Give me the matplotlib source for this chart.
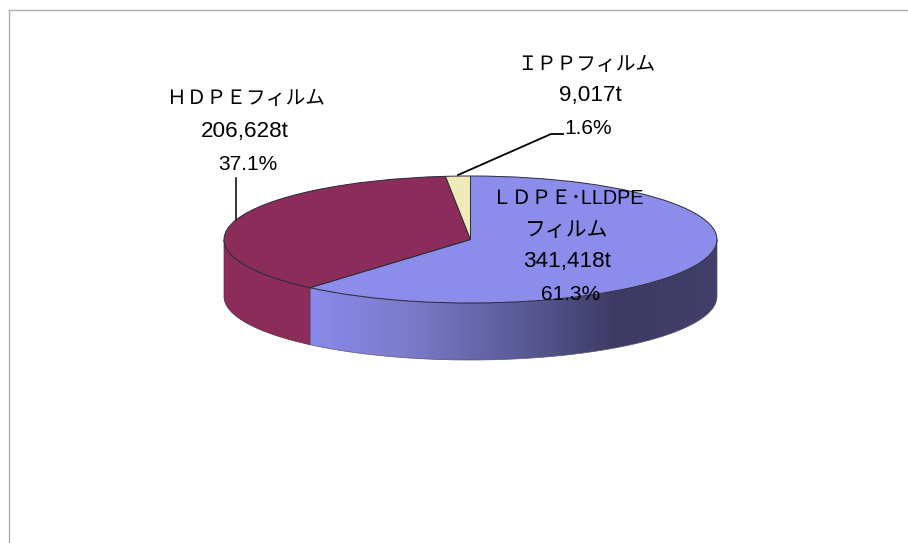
import numpy as np
import matplotlib
matplotlib.use("Agg")
import matplotlib.pyplot as plt
from matplotlib.colors import LinearSegmentedColormap
from matplotlib.patches import Polygon
from matplotlib.transforms import Affine2D

plt.rcParams['font.family'] = ['Liberation Sans', 'Noto Sans CJK JP', 'DejaVu Sans']

names = ['ＬＤＰＥ･LLDPE\nフィルム', 'ＨＤＰＥフィルム', 'ＩＰＰフィルム']
tons = [341418, 206628, 9017]
tons_text = ['341,418t', '206,628t', '9,017t']
share_text = ['61.3%', '37.1%', '1.6%']
colors = ['#8C8CEB', '#8B2C5A', '#EEEBB9']

W, H = 908, 543
# ellipse geometry in pixels
cx, cy, rx, ry = 470.5, 239.5, 246.5, 63.5
depth = 57 / ry

fig = plt.figure(figsize=(W / 100, H / 100), dpi=100)
ax = fig.add_axes([0, 0, 1, 1])

# image pixels (y down) to display coords
px = Affine2D().scale(1, -1).translate(0, H)

ax.pie(tons, colors=colors, startangle=90, counterclock=False, radius=1,
       wedgeprops=dict(edgecolor='#2a2a3a', linewidth=0.7, zorder=3))

cuts = np.cumsum(tons) / np.sum(tons) * 2 * np.pi
blue_end = cuts[0]


def side_points(a0, a1):
    a = np.linspace(a0, a1, 120)
    upper = np.column_stack([np.sin(a), np.cos(a)])
    lower = upper[::-1] - [0, depth]
    return np.vstack([upper, lower])


# blue side with the shading going dark to the right
blue_side = Polygon(side_points(np.pi / 2, blue_end), closed=True, fc='none',
                    ec='#55556f', lw=0.5, zorder=2)
ax.add_patch(blue_side)
shade = LinearSegmentedColormap.from_list('shade', [
    (0.0, '#8A8AEB'), (0.25, '#7A7AC8'), (0.55, '#565690'),
    (0.75, '#3D3B64'), (1.0, '#41406A')])
x0 = np.sin(blue_end)
img = ax.imshow(np.linspace(0, 1, 256)[None, :], cmap=shade, aspect='auto',
                extent=(x0, 1, -1 - depth, 0), zorder=1)
img.set_clip_path(blue_side)

ax.add_patch(Polygon(side_points(blue_end, 3 * np.pi / 2), closed=True,
                     fc=colors[1], ec='#55303f', lw=0.5, zorder=2))

ax.set_xlim(-cx / rx, (W - cx) / rx)
ax.set_ylim((cy - H) / ry, cy / ry)
ax.set_axis_off()

# frame, only top and left show
ax.plot([9, W], [10, 10], color='#b0b0b0', lw=1.0, transform=px, clip_on=False)
ax.plot([9, 9], [10, H], color='#b0b0b0', lw=1.0, transform=px, clip_on=False)

# leader lines
ax.plot([235.5, 235.5], [178, 220], color='black', lw=1.1, transform=px, zorder=4)
ax.plot([458, 551, 563], [175, 134, 134], color='black', lw=1.3, transform=px, zorder=4)


def label(x, y, s, size=16.2):
    ax.text(x, y + 2, s, transform=px, ha='center', va='center', fontsize=size,
            color='black', zorder=5)


name_ldpe, name_film = names[0].split('\n')
label(568, 197, name_ldpe, 14.2)
label(567, 228, name_film, 15)
label(567, 260, tons_text[0])
label(571, 293, share_text[0], 15)

label(246, 97, names[1], 14.2)
label(244.5, 130, tons_text[1])
label(248, 163, share_text[1], 15)

label(586, 62, names[2], 14.2)
label(590, 93, tons_text[2])
label(588, 127, share_text[2], 15)

fig.savefig('out.png', dpi=100)
